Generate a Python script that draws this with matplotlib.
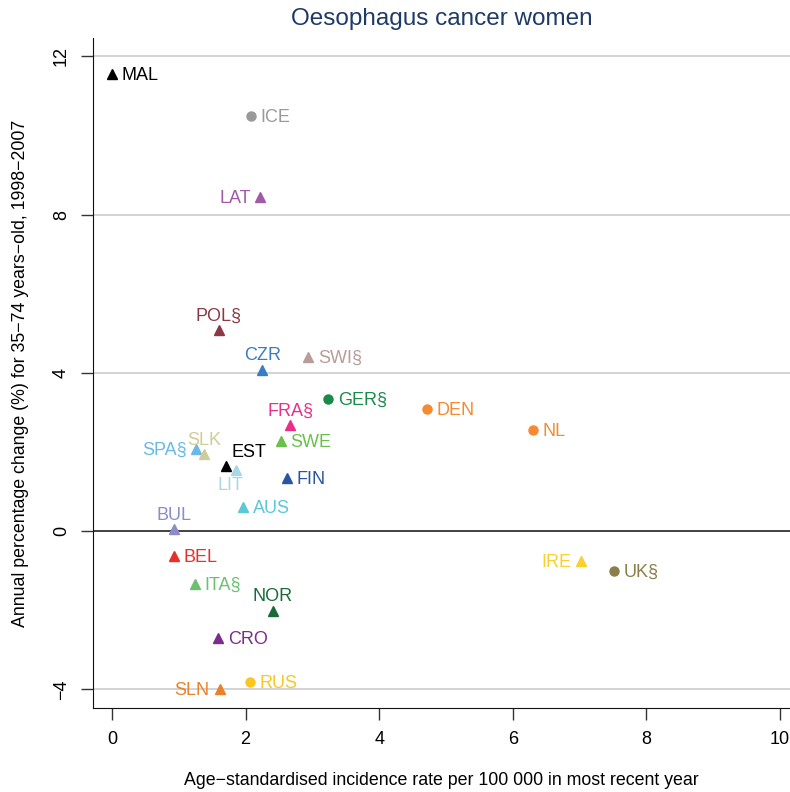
import matplotlib
matplotlib.use("Agg")
import matplotlib.pyplot as plt

# Data
countries = ["MAL", "ICE", "LAT", "POL§", "CZR", "SWI§", "GER§", "DEN", "NL", "FRA§",
             "SWE", "SPA§", "SLK", "EST", "LIT", "FIN", "AUS", "BUL", "BEL", "ITA§",
             "NOR", "CRO", "SLN", "RUS", "IRE", "UK§"]
incidence = [0.00, 2.08, 2.22, 1.60, 2.25, 2.94, 3.24, 4.71, 6.30, 2.67,
             2.53, 1.26, 1.38, 1.71, 1.86, 2.62, 1.96, 0.93, 0.93, 1.24,
             2.41, 1.59, 1.61, 2.07, 7.02, 7.51]
apc = [11.54, 10.48, 8.43, 5.08, 4.07, 4.39, 3.33, 3.08, 2.55, 2.68,
       2.27, 2.07, 1.94, 1.64, 1.54, 1.34, 0.61, 0.05, -0.63, -1.34,
       -2.02, -2.70, -3.99, -3.81, -0.76, -1.01]

# styling per country
colors = ["#000000", "#999999", "#a05aa8", "#8a3a44", "#3a7cc4", "#b89c98", "#1a8a48", "#f58a30",
          "#f58a30", "#e8308a", "#6ac04c", "#6ab8e8", "#cfcc98", "#000000", "#a8d8e8", "#2a56a0",
          "#5ac8d8", "#8c8cc8", "#e8302a", "#6cc070", "#1a6a3a", "#7a2e8c", "#e8822a", "#f8c820",
          "#f8d030", "#8a7e4a"]
markers = ["^", "o", "^", "^", "^", "^", "o", "o", "o", "^", "^", "^", "^", "^", "^", "^",
           "^", "^", "^", "^", "^", "^", "^", "o", "^", "o"]
# label position: r=right, l=left, t=top, tr=top-right, bl=bottom-left
positions = ["r", "r", "l", "t", "t", "r", "r", "r", "r", "t", "r", "l", "t", "tr", "bl", "r",
             "r", "t", "r", "r", "t", "r", "l", "r", "l", "r"]

plt.rcParams["font.family"] = ["Liberation Sans", "DejaVu Sans"]

fig = plt.figure(figsize=(7.9, 7.92), dpi=100)
ax = fig.add_axes([93 / 790, 84 / 792, 697 / 790, 670 / 792])

ax.set_xlim(-0.284, 10.15)
ax.set_ylim(-4.47, 12.46)

for yv in [-4, 4, 8, 12]:
    ax.axhline(yv, color="#cccccc", lw=1.2, zorder=0)
ax.axhline(0, color="#222222", lw=1.2, zorder=1)

offsets = {"r": ((7, -1), "left", "center"), "l": ((-7, -1), "right", "center"),
           "t": ((0, 4), "center", "bottom"), "tr": ((4, 4), "left", "bottom"),
           "bl": ((-4, -5), "center", "top")}

for name, x, y, c, m, p in zip(countries, incidence, apc, colors, markers, positions):
    ax.plot(x, y, marker=m, color=c, ms=7 if m == "^" else 6.5, ls="none", zorder=3)
    off, ha, va = offsets[p]
    ax.annotate(name, (x, y), xytext=off, textcoords="offset points",
                ha=ha, va=va, color=c, fontsize=13)

for s in ["top", "right"]:
    ax.spines[s].set_visible(False)
ax.spines["left"].set_color("#111111")
ax.spines["bottom"].set_color("#111111")

ax.set_xticks([0, 2, 4, 6, 8, 10])
ax.set_yticks([-4, 0, 4, 8, 12])
ax.tick_params(axis="both", length=8.5, width=1, color="#333333", labelsize=13, pad=8)
for lbl in ax.get_yticklabels():
    lbl.set_rotation(90)
    lbl.set_va("center")

ax.set_xlabel("Age\u2212standardised incidence rate per 100 000 in most recent year",
              fontsize=12.8, labelpad=17)
ax.set_ylabel("Annual percentage change (%) for 35\u221274 years\u2212old, 1998\u22122007",
              fontsize=12.8, labelpad=17)
ax.set_title("Oesophagus cancer women", color="#1e3a66", fontsize=17.5, pad=9)

fig.savefig("out.png", dpi=100)
